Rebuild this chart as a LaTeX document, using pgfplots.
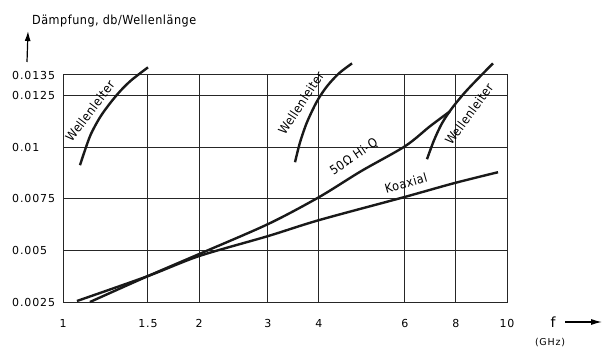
\documentclass[border=0pt]{standalone}
\usepackage{fontspec}
\setmainfont[LetterSpace=8]{DejaVu Sans}
\newfontfamily\condfont[LetterSpace=4]{DejaVu Sans Condensed}
\usepackage{pgfplots}
\pgfplotsset{compat=1.18}
\usetikzlibrary{arrows.meta}

\tikzset{curve/.style={black!90, line width=2.4bp, smooth, tension=0.5, mark=none}}

\begin{document}
\begin{tikzpicture}[font=\fontsize{11bp}{13bp}\selectfont]
\useasboundingbox (-63bp,-45bp) rectangle (548bp,302bp);
\begin{axis}[
    scale only axis,
    width=444bp, height=227bp,
    xmode=log,
    xmin=1, xmax=10,
    ymin=0.0025, ymax=0.0135,
    xtick={1,1.554,2.025,2.895,3.772,5.892,7.676,10},
    xticklabels={1,1.5,2,3,4,6,8,10},
    ytick={0.0025,0.005,0.0075,0.01,0.0125,0.0135},
    yticklabels={0.0025,0.005,0.0075,0.01,0.0125,0.0135},
    scaled y ticks=false,
    grid=major,
    major grid style={line width=1bp, black!85},
    axis line style={line width=1bp, black!85},
    major tick length=0pt,
    minor tick length=0pt,
    yticklabel style={anchor=west, xshift=-51bp, inner sep=0pt},
    xticklabel style={yshift=-14bp},
    clip=false,
]
% Wellenleiter (links)
\addplot[curve] coordinates {(1.092,0.009128)(1.1502,0.010531)(1.2115,0.01145)(1.2760,0.012127)(1.3439,0.012708)(1.4155,0.013192)(1.4909,0.013579)(1.554,0.013869)};
% Wellenleiter (Mitte)
\addplot[curve] coordinates {(3.331,0.009273)(3.4189,0.010241)(3.5443,0.011208)(3.7331,0.012224)(3.9318,0.01295)(4.1830,0.013579)(4.477,0.014063)};
% Wellenleiter (rechts)
\addplot[curve] coordinates {(6.604,0.009418)(6.849,0.010337)(7.139,0.01116)(7.5155,0.011886)(8.0429,0.01266)(8.6574,0.013385)(9.300,0.014063)};
% 50 Ohm Hi-Q
\addplot[curve] coordinates {(1.150,0.0025)(1.554,0.003758)(2.025,0.004822)(2.895,0.006274)(3.772,0.00758)(4.691,0.008838)(5.892,0.010047)(6.708,0.011015)(7.442,0.01174)};
% Koaxial
\addplot[curve] coordinates {(1.075,0.002548)(1.554,0.003758)(2.025,0.004725)(2.895,0.005693)(3.772,0.006467)(5.861,0.00758)(7.597,0.008257)(9.544,0.008789)};
\end{axis}
\begin{scope}[font=\condfont\fontsize{12.5bp}{14bp}\selectfont]
\node[anchor=base west, inner sep=0pt] at (-31bp,277bp) {Dämpfung, db/Wellenlänge};
\node[rotate=53] at (27bp,191bp) {Wellenleiter};
\node[rotate=57] at (238bp,199bp) {Wellenleiter};
\node[rotate=54] at (406bp,188bp) {Wellenleiter};
\node[rotate=34] at (291bp,145bp) {50Ω~Hi-Q};
\node[rotate=16] at (343bp,119bp) {Koaxial};
\end{scope}
\draw[line width=1.2bp, -{Latex[length=10bp,width=6bp]}] (-36bp,240bp) -- (-35bp,271bp);
\node[anchor=base, inner sep=0pt, font=\fontsize{14bp}{16bp}\selectfont] at (490bp,-25bp) {f};
\draw[line width=1.2bp, -{Latex[length=11bp,width=6bp]}] (502bp,-20bp) -- (539bp,-20bp);
\node[anchor=center, inner sep=0pt, font=\fontsize{9.5bp}{11bp}\selectfont] at (487bp,-41bp) {(GHz)};
\end{tikzpicture}
\end{document}
